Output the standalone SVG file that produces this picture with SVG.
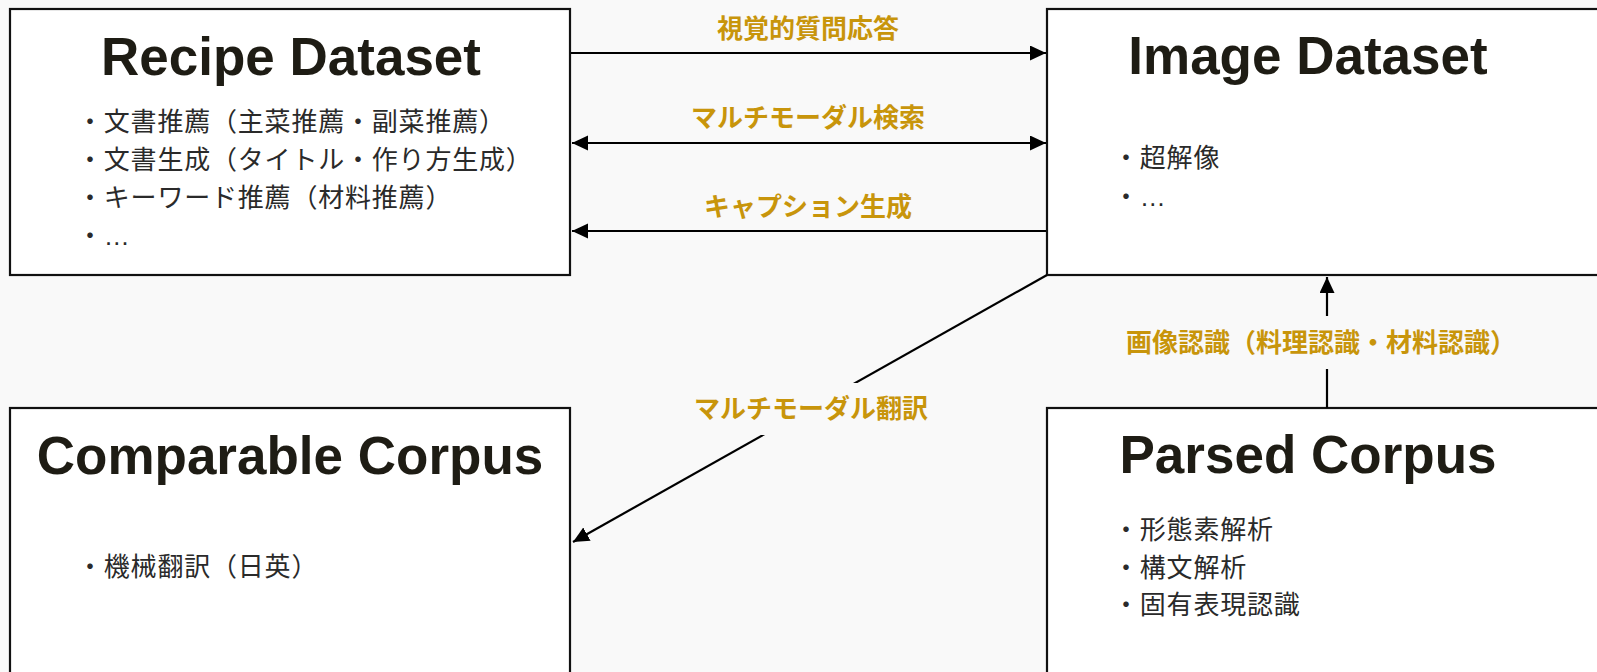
<svg xmlns="http://www.w3.org/2000/svg" width="1597" height="672" viewBox="0 0 1597 672">
<style>
.box{fill:#ffffff;stroke:#111;stroke-width:2.2}
.title{font-family:"Liberation Sans",Arial,sans-serif;font-weight:bold;font-size:53px;fill:#1e1c14;text-anchor:middle}
.item{font-family:"Noto Sans CJK JP","Noto Sans",sans-serif;font-size:26px;letter-spacing:0.8px;fill:#2a2a2a}
.ell{font-family:"Liberation Sans",Arial,sans-serif;letter-spacing:0}
.lbl{font-family:"Noto Sans CJK JP","Noto Sans",sans-serif;font-weight:bold;font-size:26px;fill:#c8950b;text-anchor:middle}
.edge{stroke:#000;stroke-width:2.2;fill:none}
.lblbg{fill:#f9f9f9}
</style>
<defs>
<marker id="arr" markerUnits="userSpaceOnUse" markerWidth="18" markerHeight="16" refX="16" refY="7.5" orient="auto-start-reverse" viewBox="0 0 18 16">
<path d="M0,0 L16,7.5 L0,15 z" fill="#000"/>
</marker>
</defs>
<rect width="1597" height="672" fill="#f9f9f9"/>
<g id="recipe-dataset">
<rect class="box" x="10" y="9" width="560" height="266"/>
<text class="title" x="291" y="75">Recipe Dataset</text>
<text class="item" x="77" y="131">・文書推薦（主菜推薦・副菜推薦）</text>
<text class="item" x="77" y="169">・文書生成（タイトル・作り方生成）</text>
<text class="item" x="77" y="207">・キーワード推薦（材料推薦）</text>
<text class="item" x="77" y="245">・<tspan class="ell">…</tspan></text>
</g>
<g id="image-dataset">
<rect class="box" x="1047" y="9" width="560" height="266"/>
<text class="title" x="1308" y="74">Image Dataset</text>
<text class="item" x="1113" y="167">・超解像</text>
<text class="item" x="1113" y="206">・<tspan class="ell">…</tspan></text>
</g>
<g id="comparable-corpus">
<rect class="box" x="10" y="408" width="560" height="280"/>
<text class="title" x="290" y="474">Comparable Corpus</text>
<text class="item" x="77" y="576">・機械翻訳（日英）</text>
</g>
<g id="parsed-corpus">
<rect class="box" x="1047" y="408" width="560" height="280"/>
<text class="title" x="1308" y="473">Parsed Corpus</text>
<text class="item" x="1113" y="539">・形態素解析</text>
<text class="item" x="1113" y="577">・構文解析</text>
<text class="item" x="1113" y="614">・固有表現認識</text>
</g>
<g id="connectors">
<line class="edge" x1="571" y1="53" x2="1046" y2="53" marker-end="url(#arr)"/>
<text class="lbl" x="808" y="38">視覚的質問応答</text>
<line class="edge" x1="572" y1="143" x2="1046" y2="143" marker-start="url(#arr)" marker-end="url(#arr)"/>
<text class="lbl" x="808" y="127">マルチモーダル検索</text>
<line class="edge" x1="1046" y1="231" x2="572" y2="231" marker-end="url(#arr)"/>
<text class="lbl" x="808" y="216">キャプション生成</text>
<line class="edge" x1="1047" y1="275" x2="573" y2="542" marker-end="url(#arr)"/>
<rect class="lblbg" x="678" y="383" width="266" height="52"/>
<text class="lbl" x="811" y="418">マルチモーダル翻訳</text>
<line class="edge" x1="1327" y1="408" x2="1327" y2="277" marker-end="url(#arr)"/>
<rect class="lblbg" x="1120" y="316" width="400" height="53"/>
<text class="lbl" x="1321" y="352">画像認識（料理認識・材料認識）</text>
</g>
</svg>
